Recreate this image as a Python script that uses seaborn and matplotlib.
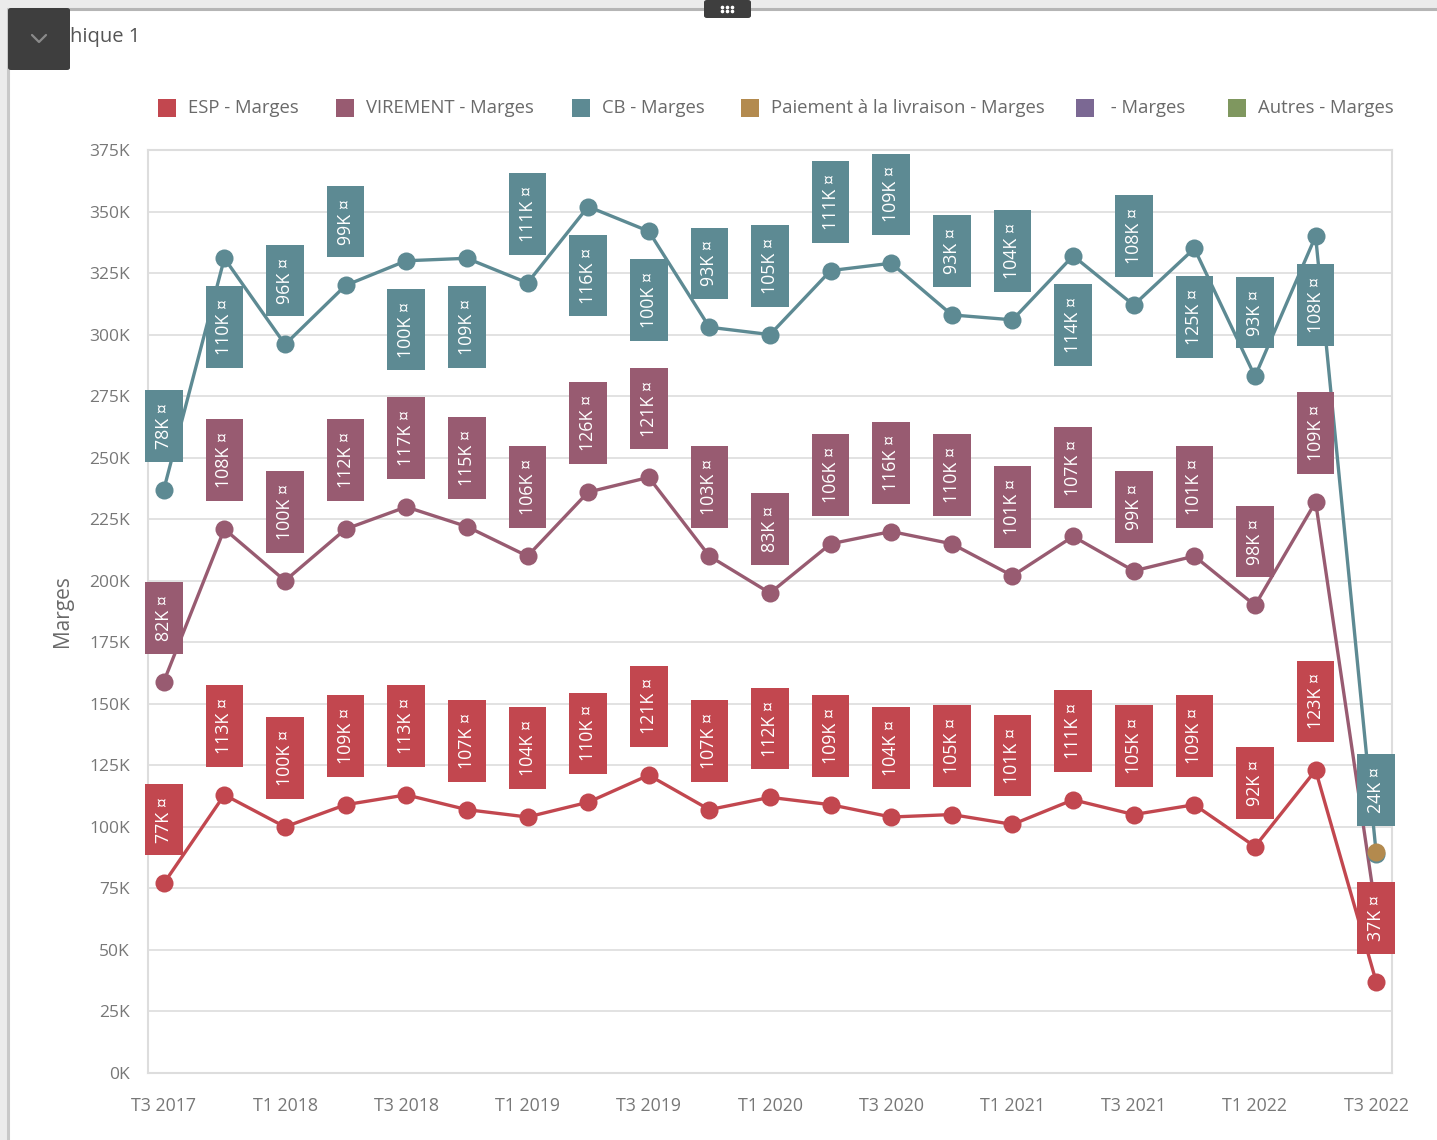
import numpy as np
import pandas as pd
import matplotlib
matplotlib.use("Agg")
import matplotlib.pyplot as plt
from matplotlib.patches import Rectangle, FancyBboxPatch
from matplotlib.lines import Line2D
import seaborn as sns

# Quarterly margins (in thousands) per payment method
quarters = ["T3 2017", "T4 2017",
            "T1 2018", "T2 2018", "T3 2018", "T4 2018",
            "T1 2019", "T2 2019", "T3 2019", "T4 2019",
            "T1 2020", "T2 2020", "T3 2020", "T4 2020",
            "T1 2021", "T2 2021", "T3 2021", "T4 2021",
            "T1 2022", "T2 2022", "T3 2022"]
esp = [77, 113, 100, 109, 113, 107, 104, 110, 121, 107, 112,
       109, 104, 105, 101, 111, 105, 109, 92, 123, 37]
virement = [82, 108, 100, 112, 117, 115, 106, 126, 121, 103, 83,
            106, 116, 110, 101, 107, 99, 101, 98, 109, 28]
cb = [78, 110, 96, 99, 100, 109, 111, 116, 100, 93, 105,
      111, 109, 93, 104, 114, 108, 125, 93, 108, 24]
paiement = [np.nan] * 20 + [0.6]

series_names = ["ESP - Marges", "VIREMENT - Marges", "CB - Marges",
                "Paiement à la livraison - Marges", " - Marges", "Autres - Marges"]
colors = ["#C2474F", "#985B71", "#5D8A93", "#B38A4E", "#7B6893", "#7F975F"]
tick_quarters = quarters[::2]
y_ticks = list(range(0, 376, 25))

# label side per point: above ("a") or below ("b") the marker
cb_side = ["a", "b", "a", "a", "b", "b", "a", "b", "b", "a", "a",
           "a", "a", "a", "a", "b", "a", "b", "a", "b", "a"]
show_virement_label = [True] * 20 + [False]

W, H = 1437, 1140
sns.set_theme(style="white")
plt.rcParams["font.family"] = ["Open Sans", "DejaVu Sans"]

# stacked (cumulative) values
idx = np.arange(len(quarters))
cum_esp = np.array(esp, float)
cum_vir = cum_esp + np.array(virement, float)
cum_cb = cum_vir + np.array(cb, float)
cum_pay = cum_cb + np.array(paiement, float)

frames = []
for name, vals in zip(series_names[:4], [cum_esp, cum_vir, cum_cb, cum_pay]):
    frames.append(pd.DataFrame({"idx": idx, "val": vals, "serie": name}))
df = pd.concat(frames).dropna()

fig = plt.figure(figsize=(W / 100, H / 100), dpi=100, facecolor="#EBEBEB")

def fx(px):
    return px / W

def fy(py):
    return 1 - py / H

# white canvas with grey frame lines
fig.patches.append(Rectangle((fx(9), 0), 1 - fx(9), fy(9), transform=fig.transFigure,
                             facecolor="white", edgecolor="none", zorder=-3))
fig.lines.append(Line2D([fx(8), 1], [fy(9), fy(9)], transform=fig.transFigure,
                        color="#B5B5B5", lw=2.2, zorder=-2))
fig.lines.append(Line2D([fx(8), fx(8)], [fy(9), 0], transform=fig.transFigure,
                        color="#C8C8C8", lw=2.2, zorder=-2))

ax = fig.add_axes([fx(148), fy(1073), fx(1392) - fx(148), fy(150) - fy(1073)])
ax.set_zorder(1)
ax.set_facecolor("white")

sns.lineplot(data=df, x="idx", y="val", hue="serie", hue_order=series_names[:4],
             palette=colors[:4], marker="o", markersize=13, markeredgewidth=0,
             linewidth=2.4, legend=False, sort=False, ax=ax, zorder=2)

ax.set_xlim(-0.26, 20.26)
ax.set_ylim(0, 375)
ax.set_yticks(y_ticks)
ax.set_yticklabels([f"{v}K" for v in y_ticks])
ax.set_xticks(idx[::2])
ax.set_xticklabels(tick_quarters)
ax.tick_params(axis="y", length=0, pad=13, labelsize=12.5, labelcolor="#777777")
ax.tick_params(axis="x", length=0, pad=17, labelsize=12.8, labelcolor="#777777")
ax.yaxis.grid(True, color="#DDDDDD", lw=1.2)
ax.xaxis.grid(False)
for s in ax.spines.values():
    s.set_color("#DDDDDD")
    s.set_linewidth(1.5)
ax.set_xlabel("")
ax.set_ylabel("Marges", fontsize=15, color="#6A6A6A", labelpad=12)

# value labels in coloured boxes
fs = 12.8
pad = 0.55
gap_pt = 28 / 1.389 + pad * fs

def box_label(i, y, value, color, side):
    off = gap_pt if side == "a" else -gap_pt
    ax.annotate(f"\u2009{value}K ¤\u2009", xy=(i, y), xytext=(0, off),
                textcoords="offset points",
                rotation=90, ha="center", va="bottom" if side == "a" else "top",
                fontsize=fs, color="white", zorder=5,
                bbox=dict(boxstyle=f"square,pad={pad}", fc=color, ec="none"))

for i in idx:
    box_label(i, cum_esp[i], esp[i], colors[0], "a")
    if show_virement_label[i]:
        box_label(i, cum_vir[i], virement[i], colors[1], "a")
    box_label(i, cum_cb[i], cb[i], colors[2], cb_side[i])

# legend row
legend_x = [158, 336, 572, 741, 1076, 1228]
for x0, name, c in zip(legend_x, series_names, colors):
    fig.patches.append(Rectangle((fx(x0), fy(117)), fx(18), fy(99) - fy(117),
                                 transform=fig.transFigure, facecolor=c, edgecolor="none"))
    fig.text(fx(x0 + 30), fy(108), name, fontsize=13.3, color="#6A6A6A",
             ha="left", va="center")

# header: title, collapse button, drag handle
fig.text(fx(70), fy(37), "hique 1", fontsize=14.5, color="#555555", ha="left", va="center")
fig.patches.append(FancyBboxPatch((fx(8), fy(70)), fx(62), fy(8) - fy(70),
                                  boxstyle="round,pad=0,rounding_size=0.002",
                                  transform=fig.transFigure, facecolor="#3E3E3E",
                                  edgecolor="none", zorder=3))
fig.lines.append(Line2D([fx(32), fx(39), fx(46)], [fy(35), fy(42), fy(35)],
                        transform=fig.transFigure, color="#8A8A8A", lw=1.6, zorder=4))
fig.patches.append(FancyBboxPatch((fx(704), fy(18)), fx(47), fy(0) - fy(18),
                                  boxstyle="round,pad=0,rounding_size=0.002",
                                  transform=fig.transFigure, facecolor="#3E3E3E",
                                  edgecolor="none", zorder=3))
for dx in (-5, 0, 5):
    for dy in (7, 11):
        fig.lines.append(Line2D([fx(727 + dx)], [fy(dy)], transform=fig.transFigure,
                                marker="o", markersize=1.6, color="white", lw=0, zorder=4))

fig.savefig("out.png", dpi=100, facecolor=fig.get_facecolor())
